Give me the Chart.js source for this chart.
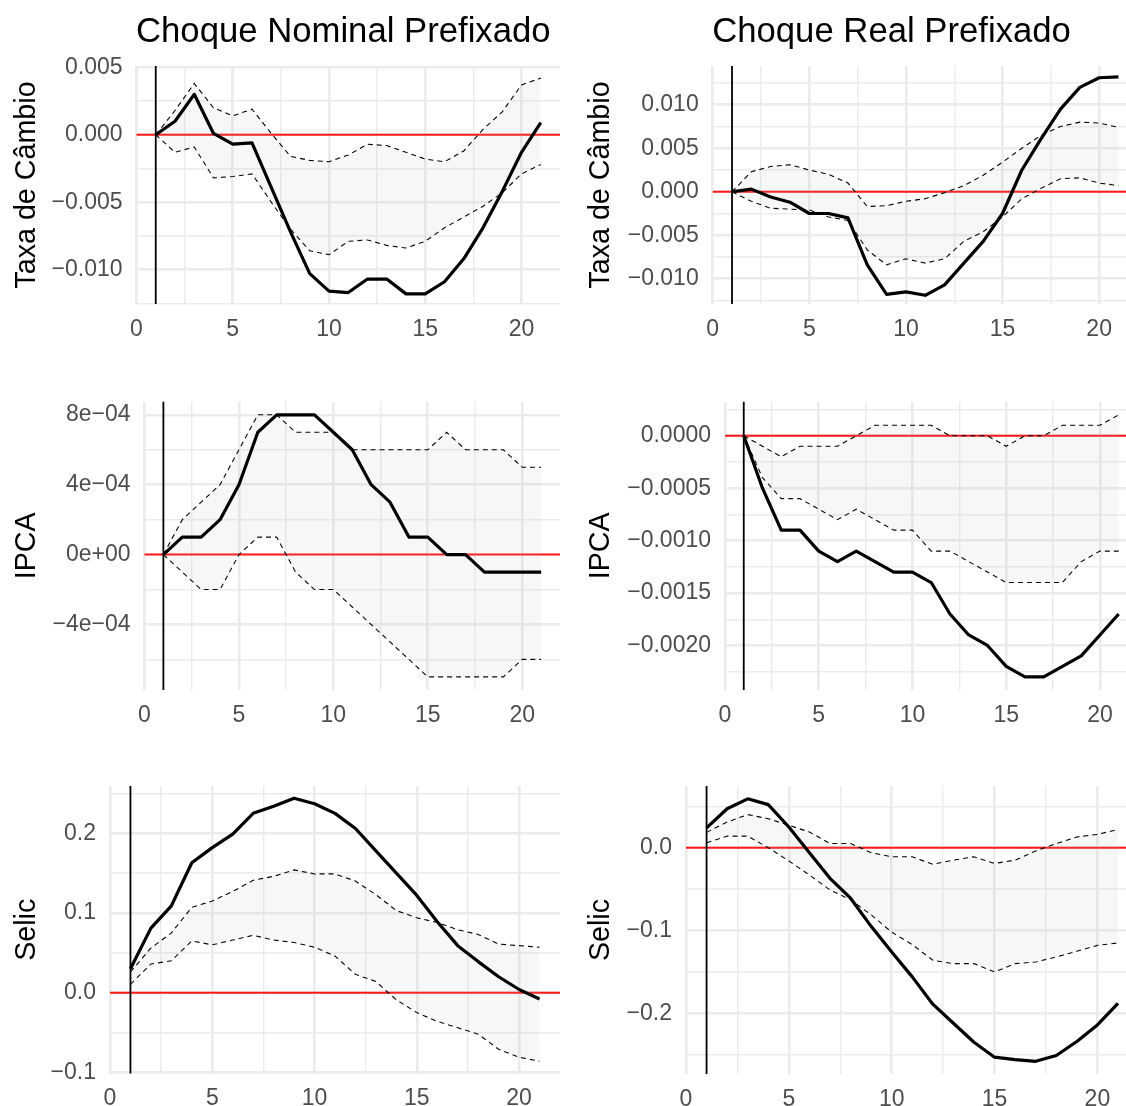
<!DOCTYPE html>
<html>
<head>
<meta charset="utf-8">
<script src="https://cdn.jsdelivr.net/npm/chart.js@4.4.1/dist/chart.umd.min.js"></script>
<style>
  html, body { margin: 0; padding: 0; background: #ffffff; overflow: hidden; }
  #wrap { position: relative; width: 1126px; height: 1106px; }
  #wrap canvas { position: absolute; }
</style>
</head>
<body>
<div id="wrap"></div>
<script>
// ---------------- DATA ----------------
const HORIZON = [1, 2, 3, 4, 5, 6, 7, 8, 9, 10, 11, 12, 13, 14, 15, 16, 17, 18, 19, 20, 21];
const COLUMN_TITLES = ['Choque Nominal Prefixado', 'Choque Real Prefixado'];
const ROW_LABELS = ['Taxa de Câmbio', 'IPCA', 'Selic'];
const ZERO_LINE = 0;
const SHOCK_PERIOD = 1;

// Choque Nominal – Taxa de Câmbio
const nomCambioIrf   = [0, 0.0010, 0.0030, 0.0001, -0.0007, -0.0006, -0.0039, -0.0072, -0.0103, -0.0116, -0.0117, -0.0107, -0.0107, -0.0118, -0.0118, -0.0109, -0.0092, -0.0069, -0.0042, -0.0013, 0.0009];
const nomCambioUpper = [0, 0.0018, 0.0038, 0.0020, 0.0014, 0.0019, 0.0001, -0.0016, -0.0019, -0.0020, -0.0015, -0.0007, -0.0008, -0.0013, -0.0018, -0.0020, -0.0012, 0.0004, 0.0017, 0.0037, 0.0042];
const nomCambioLower = [0, -0.0013, -0.0009, -0.0032, -0.0031, -0.0029, -0.0050, -0.0070, -0.0086, -0.0089, -0.0079, -0.0078, -0.0082, -0.0084, -0.0079, -0.0069, -0.0061, -0.0053, -0.0043, -0.0029, -0.0022];

// Choque Real – Taxa de Câmbio
const realCambioIrf   = [0, 0.0003, -0.0006, -0.0012, -0.0025, -0.0025, -0.0030, -0.0084, -0.0118, -0.0115, -0.0119, -0.0107, -0.0082, -0.0057, -0.0025, 0.0025, 0.0061, 0.0095, 0.0120, 0.0131, 0.0132];
const realCambioUpper = [0, 0.0023, 0.0029, 0.0031, 0.0025, 0.0020, 0.0010, -0.0017, -0.0016, -0.0011, -0.0008, -0.0001, 0.0007, 0.0019, 0.0034, 0.0050, 0.0065, 0.0075, 0.0080, 0.0079, 0.0074];
const realCambioLower = [0, -0.0011, -0.0019, -0.0020, -0.0021, -0.0029, -0.0033, -0.0067, -0.0084, -0.0077, -0.0082, -0.0077, -0.0057, -0.0046, -0.0029, -0.0008, 0.0004, 0.0015, 0.0016, 0.0010, 0.0007];

// Choque Nominal – IPCA
const nomIpcaIrf   = [0, 0.0001, 0.0001, 0.0002, 0.0004, 0.0007, 0.0008, 0.0008, 0.0008, 0.0007, 0.0006, 0.0004, 0.0003, 0.0001, 0.0001, 0, 0, -0.0001, -0.0001, -0.0001, -0.0001];
const nomIpcaUpper = [0, 0.0002, 0.0003, 0.0004, 0.0006, 0.0008, 0.0008, 0.0007, 0.0007, 0.0007, 0.0006, 0.0006, 0.0006, 0.0006, 0.0006, 0.0007, 0.0006, 0.0006, 0.0006, 0.0005, 0.0005];
const nomIpcaLower = [0, -0.0001, -0.0002, -0.0002, 0, 0.0001, 0.0001, -0.0001, -0.0002, -0.0002, -0.0003, -0.0004, -0.0005, -0.0006, -0.0007, -0.0007, -0.0007, -0.0007, -0.0007, -0.0006, -0.0006];

// Choque Real – IPCA
const realIpcaIrf   = [0, -0.0005, -0.0009, -0.0009, -0.0011, -0.0012, -0.0011, -0.0012, -0.0013, -0.0013, -0.0014, -0.0017, -0.0019, -0.0020, -0.0022, -0.0023, -0.0023, -0.0022, -0.0021, -0.0019, -0.0017];
const realIpcaUpper = [0, -0.0001, -0.0002, -0.0001, -0.0001, -0.0001, 0, 0.0001, 0.0001, 0.0001, 0.0001, 0, 0, 0, -0.0001, 0, 0, 0.0001, 0.0001, 0.0001, 0.0002];
const realIpcaLower = [0, -0.0004, -0.0006, -0.0006, -0.0007, -0.0008, -0.0007, -0.0008, -0.0009, -0.0009, -0.0011, -0.0011, -0.0012, -0.0013, -0.0014, -0.0014, -0.0014, -0.0014, -0.0012, -0.0011, -0.0011];

// Choque Nominal – Selic
const nomSelicIrf   = [0.030, 0.081, 0.109, 0.163, 0.182, 0.199, 0.225, 0.234, 0.244, 0.237, 0.225, 0.206, 0.178, 0.150, 0.122, 0.089, 0.059, 0.039, 0.020, 0.004, -0.008];
const nomSelicUpper = [0.026, 0.056, 0.075, 0.107, 0.115, 0.127, 0.141, 0.146, 0.154, 0.149, 0.149, 0.140, 0.123, 0.103, 0.094, 0.088, 0.079, 0.073, 0.061, 0.059, 0.057];
const nomSelicLower = [0.0105, 0.036, 0.040, 0.065, 0.060, 0.066, 0.072, 0.066, 0.063, 0.057, 0.046, 0.023, 0.014, -0.009, -0.025, -0.036, -0.044, -0.052, -0.071, -0.081, -0.086];

// Choque Real – Selic
const realSelicIrf   = [0.024, 0.047, 0.059, 0.052, 0.025, -0.006, -0.037, -0.061, -0.095, -0.126, -0.156, -0.189, -0.212, -0.235, -0.253, -0.256, -0.258, -0.251, -0.234, -0.214, -0.188];
const realSelicUpper = [0.0185, 0.031, 0.040, 0.035, 0.027, 0.019, 0.005, 0.005, -0.006, -0.011, -0.011, -0.020, -0.015, -0.011, -0.019, -0.015, -0.004, 0.005, 0.013, 0.016, 0.022];
const realSelicLower = [0.006, 0.014, 0.014, 0.000, -0.016, -0.033, -0.051, -0.063, -0.081, -0.102, -0.117, -0.136, -0.140, -0.140, -0.150, -0.140, -0.138, -0.132, -0.125, -0.118, -0.115];

// Tick values and labels
const X_MAJOR = [0, 5, 10, 15, 20];
const X_MINOR = [2.5, 7.5, 12.5, 17.5];

const nomCambioTicks = [-0.010, -0.005, 0, 0.005];
const nomCambioTickLabels = ['\u22120.010', '\u22120.005', '0.000', '0.005'];
const nomCambioMinor = [-0.0125, -0.0075, -0.0025, 0.0025];

const realCambioTicks = [-0.010, -0.005, 0, 0.005, 0.010];
const realCambioTickLabels = ['\u22120.010', '\u22120.005', '0.000', '0.005', '0.010'];
const realCambioMinor = [-0.0125, -0.0075, -0.0025, 0.0025, 0.0075, 0.0125];

const nomIpcaTicks = [-0.0004, 0, 0.0004, 0.0008];
const nomIpcaTickLabels = ['\u22124e\u221204', '0e+00', '4e\u221204', '8e\u221204'];
const nomIpcaMinor = [-0.0006, -0.0002, 0.0002, 0.0006];

const realIpcaTicks = [-0.0020, -0.0015, -0.0010, -0.0005, 0];
const realIpcaTickLabels = ['\u22120.0020', '\u22120.0015', '\u22120.0010', '\u22120.0005', '0.0000'];
const realIpcaMinor = [-0.00225, -0.00175, -0.00125, -0.00075, -0.00025, 0.00025];

const nomSelicTicks = [-0.1, 0, 0.1, 0.2];
const nomSelicTickLabels = ['\u22120.1', '0.0', '0.1', '0.2'];
const nomSelicMinor = [-0.05, 0.05, 0.15, 0.25];

const realSelicTicks = [-0.2, -0.1, 0];
const realSelicTickLabels = ['\u22120.2', '\u22120.1', '0.0'];
const realSelicMinor = [-0.25, -0.15, -0.05, 0.05];

// ---------------- LAYOUT / STYLE ----------------
const FONT = '"Liberation Sans", Arial, Helvetica, sans-serif';
const LAYOUT = [
  { cell: [0, 0, 563, 350],     area: [136.5, 66, 560, 304],    xMax: 22,    yMin: -0.01255,  yMax: 0.0051,   titlePad: 9.8,  titleBase: 42 },
  { cell: [563, 0, 563, 350],   area: [712.7, 66, 1126, 304],   xMax: 21.39, yMin: -0.0129,   yMax: 0.01445,  titlePad: 20.8, titleBase: 42 },
  { cell: [0, 350, 563, 390],   area: [144.5, 401.7, 560, 690], xMax: 22,    yMin: -0.000775, yMax: 0.000875, titlePad: 9.8 },
  { cell: [563, 350, 563, 390], area: [725, 401.7, 1126, 690],  xMax: 21.39, yMin: -0.002425, yMax: 0.000325, titlePad: 20.8 },
  { cell: [0, 740, 563, 366],   area: [110, 786, 560, 1073.5],  xMax: 22,    yMin: -0.1014,   yMax: 0.2593,   titlePad: 9.8 },
  { cell: [563, 740, 563, 366], area: [686, 786, 1126, 1074],   xMax: 21.39, yMin: -0.2733,   yMax: 0.0745,   titlePad: 20.8 }
];

const PANELS = [
  { irf: nomCambioIrf,  upper: nomCambioUpper,  lower: nomCambioLower,  ticks: nomCambioTicks,  labels: nomCambioTickLabels,  minor: nomCambioMinor,  row: ROW_LABELS[0], title: COLUMN_TITLES[0] },
  { irf: realCambioIrf, upper: realCambioUpper, lower: realCambioLower, ticks: realCambioTicks, labels: realCambioTickLabels, minor: realCambioMinor, row: ROW_LABELS[0], title: COLUMN_TITLES[1] },
  { irf: nomIpcaIrf,    upper: nomIpcaUpper,    lower: nomIpcaLower,    ticks: nomIpcaTicks,    labels: nomIpcaTickLabels,    minor: nomIpcaMinor,    row: ROW_LABELS[1] },
  { irf: realIpcaIrf,   upper: realIpcaUpper,   lower: realIpcaLower,   ticks: realIpcaTicks,   labels: realIpcaTickLabels,   minor: realIpcaMinor,   row: ROW_LABELS[1] },
  { irf: nomSelicIrf,   upper: nomSelicUpper,   lower: nomSelicLower,   ticks: nomSelicTicks,   labels: nomSelicTickLabels,   minor: nomSelicMinor,   row: ROW_LABELS[2] },
  { irf: realSelicIrf,  upper: realSelicUpper,  lower: realSelicLower,  ticks: realSelicTicks,  labels: realSelicTickLabels,  minor: realSelicMinor,  row: ROW_LABELS[2] }
];

const GRID_COLOR = '#EBEBEB';
const TICK_COLOR = '#4D4D4D';
const BAND_COLOR = 'rgba(179,179,179,0.10)';

function isIn(list, v) { return list.some(m => Math.abs(m - v) < 1e-12); }
function toPoints(arr) { return HORIZON.map((h, i) => ({ x: h, y: arr[i] })); }

function makePanel(p, L) {
  const [cx, cy, cw, ch] = L.cell;
  const [al, at, ar, ab] = L.area;
  const canvas = document.createElement('canvas');
  canvas.width = cw; canvas.height = ch;
  canvas.style.left = cx + 'px'; canvas.style.top = cy + 'px';
  canvas.style.width = cw + 'px'; canvas.style.height = ch + 'px';
  document.getElementById('wrap').appendChild(canvas);

  const xTickValues = X_MAJOR.concat(X_MINOR).filter(v => v <= L.xMax).sort((a, b) => a - b);
  const yTickValues = p.ticks.concat(p.minor).filter(v => v >= L.yMin - 1e-12 && v <= L.yMax + 1e-12).sort((a, b) => a - b);

  const refLines = {
    id: 'refLines',
    beforeDatasetsDraw(chart) {
      const { ctx, chartArea: a, scales: { y } } = chart;
      const y0 = y.getPixelForValue(ZERO_LINE);
      ctx.save();
      ctx.strokeStyle = '#FF1A1A';
      ctx.lineWidth = 2;
      ctx.beginPath(); ctx.moveTo(a.left, y0); ctx.lineTo(a.right, y0); ctx.stroke();
      ctx.restore();
    },
    afterDatasetsDraw(chart) {
      const { ctx, chartArea: a, scales: { x } } = chart;
      const x1 = x.getPixelForValue(SHOCK_PERIOD);
      ctx.save();
      ctx.strokeStyle = '#000000';
      ctx.lineWidth = 1.8;
      ctx.beginPath(); ctx.moveTo(x1, a.top); ctx.lineTo(x1, a.bottom); ctx.stroke();
      ctx.restore();
    },
    afterDraw(chart) {
      if (!p.title) return;
      const { ctx, chartArea: a } = chart;
      ctx.save();
      ctx.font = '34.7px ' + FONT;
      ctx.fillStyle = '#000000';
      ctx.textBaseline = 'alphabetic';
      ctx.textAlign = 'left';
      ctx.fillText(p.title, a.left - 0.5, L.titleBase - cy);
      ctx.restore();
    }
  };

  new Chart(canvas, {
    type: 'line',
    data: {
      datasets: [
        { data: toPoints(p.irf), borderColor: '#000000', borderWidth: 3.2, pointRadius: 0, tension: 0, fill: false, borderJoinStyle: 'round' },
        { data: toPoints(p.upper), borderColor: '#000000', borderWidth: 1.1, borderDash: [5, 4], pointRadius: 0, tension: 0, fill: '+1', backgroundColor: BAND_COLOR },
        { data: toPoints(p.lower), borderColor: '#000000', borderWidth: 1.1, borderDash: [5, 4], pointRadius: 0, tension: 0, fill: false }
      ]
    },
    options: {
      responsive: false,
      animation: false,
      devicePixelRatio: 1,
      events: [],
      layout: { padding: { left: 0, top: at - cy, right: (cx + cw) - ar, bottom: 0 } },
      plugins: { legend: { display: false }, tooltip: { enabled: false }, title: { display: false } },
      scales: {
        x: {
          type: 'linear', min: 0, max: L.xMax, bounds: 'data',
          afterBuildTicks: s => { s.ticks = xTickValues.map(v => ({ value: v })); },
          afterFit: s => { s.height = (cy + ch) - ab; },
          border: { display: false },
          grid: { color: GRID_COLOR, drawTicks: false, lineWidth: c => (c.tick && isIn(X_MAJOR, c.tick.value)) ? 2.6 : 1.4 },
          ticks: {
            autoSkip: false, maxRotation: 0, minRotation: 0, padding: 11.5,
            color: TICK_COLOR, font: { family: FONT, size: 23 },
            callback: v => isIn(X_MAJOR, v) ? String(v) : ''
          }
        },
        y: {
          type: 'linear', min: L.yMin, max: L.yMax, bounds: 'data',
          afterBuildTicks: s => { s.ticks = yTickValues.map(v => ({ value: v })); },
          afterFit: s => { s.width = al - cx; },
          border: { display: false },
          grid: { color: GRID_COLOR, drawTicks: false, lineWidth: c => (c.tick && isIn(p.ticks, c.tick.value)) ? 2.6 : 1.4 },
          title: { display: true, text: p.row, color: '#000000', font: { family: FONT, size: 28.7 }, padding: { top: L.titlePad, bottom: 0 } },
          ticks: {
            autoSkip: false, padding: 14,
            color: TICK_COLOR, font: { family: FONT, size: 23 },
            callback: v => { const i = p.ticks.findIndex(m => Math.abs(m - v) < 1e-12); return i >= 0 ? p.labels[i] : ''; }
          }
        }
      }
    },
    plugins: [refLines]
  });
}

PANELS.forEach((p, i) => makePanel(p, LAYOUT[i]));
</script>
</body>
</html>
